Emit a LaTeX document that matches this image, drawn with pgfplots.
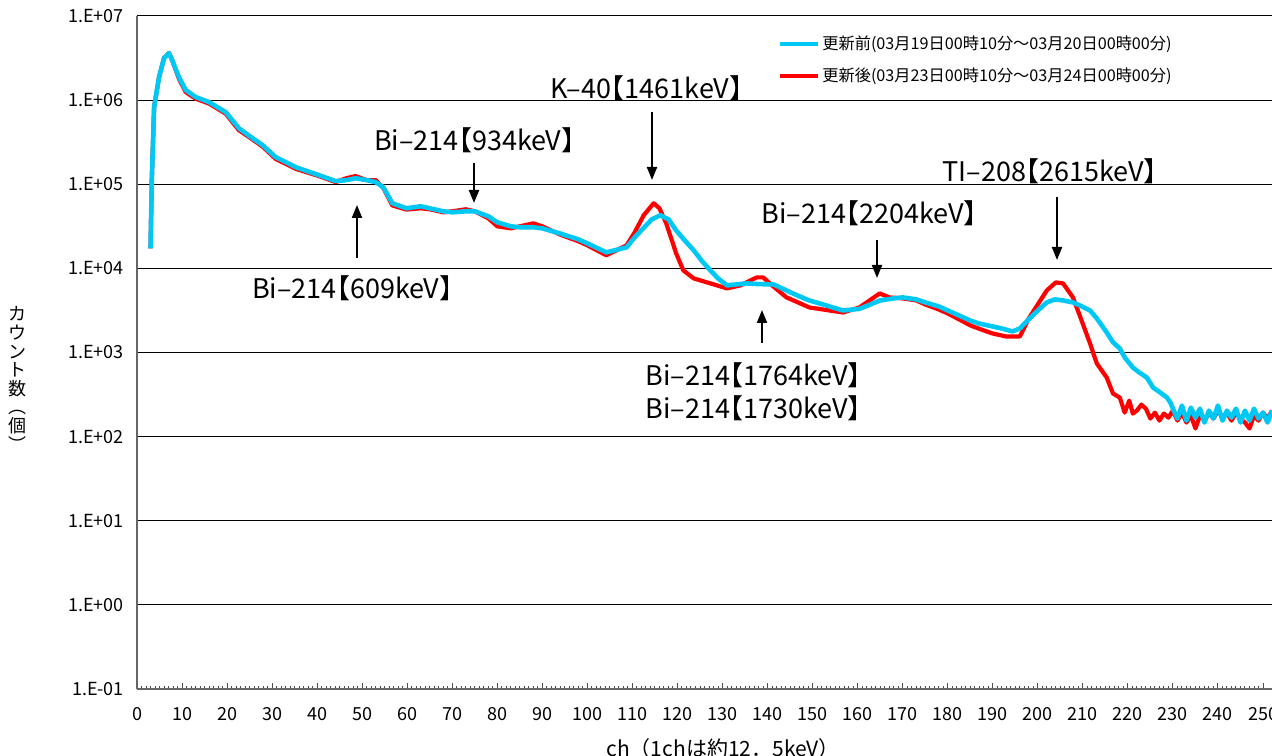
\documentclass[border=0pt]{standalone}
\usepackage{fontspec}
\usepackage{pgfplots}
\usepackage{pgfplotstable}
\pgfplotsset{compat=1.18}
\usetikzlibrary{arrows.meta}
\setmainfont{Noto Sans CJK JP}
\newfontfamily\annfont[RawFeature=+halt]{Noto Sans CJK JP}
\definecolor{cyanline}{RGB}{0,200,245}

\pgfplotstableread{
ch cnt
3.0 1.73e4
3.3 1.2e5
3.8 8.26e5
4.9 1.88e6
6.0 3.16e6
7.1 3.63e6
7.8 2.99e6
9.3 1.88e6
10.8 1.32e6
13 1.09e6
16 9.46e5
19.7 7.20e5
22.6 4.64e5
25 3.73e5
27.9 2.91e5
30.8 2.10e5
35.3 1.59e5
40.4 1.28e5
44.1 1.09e5
46.5 1.12e5
48.5 1.18e5
51 1.12e5
53 1.06e5
54.7 9.2e4
56.7 5.94e4
59.8 5.18e4
63 5.47e4
65 5.18e4
68 4.77e4
70 4.64e4
73 4.77e4
75 4.77e4
78 4.16e4
80 3.53e4
83 3.16e4
85 3.08e4
88 3.08e4
90 2.99e4
93.8 2.61e4
98 2.21e4
100 1.98e4
104.2 1.55e4
108.7 1.78e4
110.5 2.34e4
112.4 2.99e4
114.3 3.83e4
116.2 4.28e4
118 3.83e4
119.7 2.83e4
121.6 2.15e4
123.6 1.64e4
125.5 1.21e4
127.3 9.46e3
129 7.6e3
131 6.28e3
135.3 6.63e3
138 6.5e3
141.3 6.45e3
145.6 5.04e3
149 4.2e3
153 3.63e3
156.7 3.16e3
160.4 3.3e3
165 4.16e3
168 4.40e3
170 4.52e3
173 4.28e3
175 3.94e3
178 3.53e3
180 3.16e3
183 2.68e3
185 2.40e3
187 2.21e3
190 2.04e3
192 1.93e3
194.4 1.78e3
196 1.93e3
198.2 2.54e3
200 3.16e3
202 3.94e3
203.8 4.28e3
205.6 4.16e3
207.8 3.94e3
209.3 3.63e3
211.6 3.16e3
213.1 2.54e3
215.3 1.73e3
216.7 1.32e3
218.2 1.12e3
219.3 872
221.1 663
222.5 580
224.2 504
225.6 383
227 340
228.7 291
229.5 250
230 215
231 164
232 234
233 155
234 221
235 168
236 215
237 147
238 204
239 164
240 234
241 155
242 204
243 168
244 215
245 147
246 204
247 155
248 215
249 164
250 193
251 147
252 204
}\before

\pgfplotstableread{
ch cnt
3.0 1.73e4
3.3 1.2e5
3.8 8.26e5
4.9 1.88e6
6.0 3.16e6
7.1 3.63e6
7.8 2.99e6
9.3 1.80e6
10.8 1.25e6
13 1.04e6
16 9.1e5
19.7 6.9e5
22.6 4.4e5
25 3.6e5
27.9 2.8e5
30.8 2.0e5
35.3 1.52e5
40.4 1.25e5
44.1 1.06e5
46.5 1.18e5
48.5 1.25e5
51 1.12e5
53 1.12e5
54.7 9.0e4
56.7 5.6e4
59.8 5.0e4
63 5.18e4
65 5.04e4
68 4.64e4
70 4.77e4
73 5.04e4
75 4.77e4
78 3.94e4
80 3.16e4
83 2.99e4
85 3.16e4
88 3.43e4
90 3.16e4
93.8 2.54e4
98 2.10e4
100 1.88e4
104.2 1.43e4
108.7 1.88e4
110.5 2.68e4
112.5 4.28e4
114.7 5.94e4
116 5.18e4
117.5 3.43e4
119.7 1.51e4
121.3 9.46e3
123.6 7.6e3
127.3 6.63e3
131 5.78e3
134 6.28e3
137.6 7.82e3
139 7.82e3
141 6.28e3
144.2 4.52e3
149.3 3.43e3
156.7 2.99e3
160.4 3.43e3
164.9 5.04e3
167 4.52e3
170 4.40e3
173 4.16e3
175 3.73e3
178 3.25e3
180 2.91e3
183 2.40e3
185 2.10e3
188 1.83e3
190 1.68e3
193 1.55e3
196 1.55e3
198 2.54e3
200 3.73e3
202 5.47e3
204 6.81e3
205.6 6.63e3
207.8 4.52e3
209.3 2.76e3
211.6 1.28e3
213.1 740
215.3 504
216.7 325
218.2 291
219.3 193
220.3 268
221.1 188
222 204
223 240
224 215
225 164
226 193
227 155
228 188
229 168
230 204
231 155
232 193
233 147
234 178
235 125
236 178
237 155
238 193
239 164
240 204
241 168
242 193
243 155
244 193
245 164
246 147
247 125
248 178
249 155
250 193
251 164
252 204
}\after

\begin{document}
\begin{tikzpicture}
\begin{axis}[
  at={(0,0)}, anchor=south west,
  scale only axis, width=567.5pt, height=336.5pt,
  xmin=0, xmax=252, ymode=log, ymin=0.1, ymax=1e7,
  axis lines=left, axis line style={-, draw=black!60, line width=0.6pt},
  xtick={0,10,...,250}, minor x tick num=9,
  tick align=inside, major tick length=3pt, minor tick length=1.6pt,
  xtick style={black!70, line width=0.5pt},
  ytick={0.1,1,10,100,1000,10000,100000,1000000,10000000},
  yticklabels={1.E-01,1.E+00,1.E+01,1.E+02,1.E+03,1.E+04,1.E+05,1.E+06,1.E+07},
  ytick style={draw=none},
  ymajorgrids, grid style={black, line width=0.5pt},
  /pgf/number format/assume math mode=true,
  ticklabel style={font=\fontsize{9}{10}\selectfont},
  xticklabel style={yshift=-5.5pt},
  yticklabel style={xshift=-3pt},
]
\addplot[red, line width=2.1pt, line join=round] table[x=ch, y=cnt] {\after};
\addplot[cyanline, line width=2.3pt, line join=round] table[x=ch, y=cnt] {\before};
\end{axis}

% legend
\draw[cyanline, line width=2pt] (321.5pt,322.5pt) -- (340.5pt,322.5pt);
\node[anchor=west, inner sep=0pt, font=\fontsize{8.1}{10}\selectfont] at (342.5pt,322.5pt)
  {更新前(03月19日00時10分～03月20日00時00分)};
\draw[red, line width=2pt] (321.5pt,306.5pt) -- (340.5pt,306.5pt);
\node[anchor=west, inner sep=0pt, font=\fontsize{8.1}{10}\selectfont] at (342.5pt,306.5pt)
  {更新後(03月23日00時10分～03月24日00時00分)};

\begin{scope}[every node/.style={font=\annfont\fontsize{13.5}{15}\selectfont, inner sep=0pt},
  arr/.style={line width=1pt, -{Triangle[width=5pt,length=6.5pt]}}]
\node at (107.75pt,200.5pt) {Bi–214【609keV】};
\draw[arr] (110pt,215.5pt) -- (110pt,242pt);
\node at (168.75pt,274.5pt) {Bi–214【934keV】};
\draw[arr] (168.5pt,263pt) -- (168.5pt,243pt);
\node at (254.75pt,300.5pt) {K–40【1461keV】};
\draw[arr] (257.5pt,288.5pt) -- (257.5pt,254.5pt);
\node at (366.25pt,238pt) {Bi–214【2204keV】};
\draw[arr] (370pt,224.5pt) -- (370pt,205.5pt);
\node at (456.5pt,259pt) {TI–208【2615keV】};
\draw[arr] (460pt,246pt) -- (460pt,214.5pt);
\node at (308.25pt,157pt) {Bi–214【1764keV】};
\node at (308.25pt,140.5pt) {Bi–214【1730keV】};
\draw[arr] (312.5pt,173pt) -- (312.5pt,189.5pt);
\end{scope}

\node[font=\fontsize{9}{9.3}\selectfont, align=center, inner sep=0pt] at (-59.5pt,155pt)
  {カ\\ウ\\ン\\ト\\数\\︵\\個\\︶};
\node[font=\fontsize{10.5}{12}\selectfont, anchor=north, inner sep=0pt] at (293pt,-24.5pt)
  {ch（1chは約12．5keV）};

\pgfresetboundingbox
\path[use as bounding box] (-68.5pt,-33pt) rectangle (567.5pt,344.5pt);
\end{tikzpicture}
\end{document}
